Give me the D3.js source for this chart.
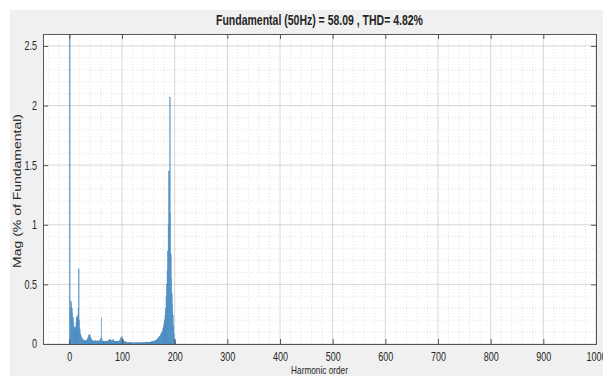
<!DOCTYPE html>
<html lang="en">
<head>
    <meta charset="utf-8">
    <title>FFT analysis</title>
    <script src="https://d3js.org/d3.v7.min.js"></script>
    <style>
        body { margin: 0; background: #fff; }
        text { font-family: "Liberation Sans", Arial, sans-serif; fill: #262626; }
    </style>
</head>
<body>
<svg id="g1"></svg>
<script>

    // harmonic spectrum, index = harmonic order (0..202), values in % of fundamental
    const magnitudes = [
        0.02, 100, 0.30, 0.36, 0.34, 0.30, 0.26, 0.22, 0.18, 0.15,
        0.13, 0.12, 0.14, 0.18, 0.22, 0.24, 0.22, 0.30, 0.63, 0.20,
        0.12, 0.09, 0.07, 0.06, 0.05, 0.04, 0.04, 0.03, 0.03, 0.03,
        0.03, 0.02, 0.03, 0.03, 0.04, 0.05, 0.06, 0.07, 0.08, 0.07,
        0.06, 0.05, 0.04, 0.03, 0.03, 0.02, 0.02, 0.03, 0.02, 0.02,
        0.03, 0.02, 0.02, 0.02, 0.03, 0.02, 0.02, 0.02, 0.03, 0.03,
        0.05, 0.22, 0.04, 0.02, 0.02, 0.02, 0.02, 0.02, 0.02, 0.02,
        0.02, 0.02, 0.02, 0.02, 0.03, 0.03, 0.04, 0.04, 0.03, 0.03,
        0.03, 0.02, 0.03, 0.04, 0.03, 0.02, 0.02, 0.02, 0.02, 0.02,
        0.02, 0.02, 0.02, 0.02, 0.02, 0.03, 0.03, 0.04, 0.05, 0.05,
        0.06, 0.05, 0.04, 0.03, 0.02, 0.02, 0.02, 0.015, 0.015, 0.015,
        0.015, 0.01, 0.015, 0.01, 0.015, 0.01, 0.01, 0.015, 0.01, 0.01,
        0.01, 0.01, 0.01, 0.01, 0.01, 0.01, 0.01, 0.01, 0.01, 0.01,
        0.01, 0.01, 0.01, 0.01, 0.01, 0.01, 0.01, 0.01, 0.01, 0.01,
        0.012, 0.012, 0.012, 0.012, 0.012, 0.012, 0.012, 0.012, 0.012, 0.012,
        0.015, 0.015, 0.015, 0.015, 0.015, 0.015, 0.015, 0.02, 0.02, 0.02,
        0.02, 0.02, 0.025, 0.025, 0.03, 0.03, 0.035, 0.04, 0.045, 0.05,
        0.055, 0.06, 0.065, 0.07, 0.08, 0.09, 0.10, 0.11, 0.13, 0.15,
        0.17, 0.20, 0.24, 0.30, 0.40, 0.50, 0.62, 0.78, 1.00, 1.45,
        1.45, 2.07, 1.10, 0.75, 0.55, 0.42, 0.33, 0.24, 0.15, 0.08,
        0.04, 0.02, 0.01
    ];
    const xTicks = [0, 100, 200, 300, 400, 500, 600, 700, 800, 900, 1000];
    const yTicks = [0, 0.5, 1, 1.5, 2, 2.5];
    const titleText = "Fundamental (50Hz) = 58.09 , THD= 4.82%";
    const xLabel = "Harmonic order";
    const yLabel = "Mag (% of Fundamental)";

    let width = 603,
        height = 376,
        margin = {top: 34, right: 7, bottom: 32, left: 43},
        chartWidth = width - margin.left - margin.right,
        chartHeight = height - margin.top - margin.bottom;

    const sq = 0.75; // horizontal squash of the text in the picture

    let svg = d3.select("#g1")
        .attr("width", width)
        .attr("height", height);

    // figure background
    svg.append("rect").attr("x", 10).attr("y", 10)
        .attr("width", width - 10).attr("height", height - 10)
        .attr("fill", "#f0f0f0");

    let x = d3.scaleLinear().domain([-50, 1000]).range([0, chartWidth]);
    let y = d3.scaleLinear().domain([0, 2.6]).range([chartHeight, 0]);

    let chartArea = svg.append("g")
        .attr("transform", `translate(${margin.left},${margin.top})`);

    chartArea.append("rect")
        .attr("width", chartWidth).attr("height", chartHeight)
        .attr("fill", "#fff");

    svg.append("clipPath").attr("id", "clip")
        .append("rect").attr("width", chartWidth).attr("height", chartHeight);

    // minor grid
    let grid = chartArea.append("g");
    grid.selectAll(".mx")
        .data(d3.range(-40, 1000, 20).filter(v => v % 100 !== 0))
        .join("line")
        .attr("x1", d => x(d)).attr("x2", d => x(d))
        .attr("y1", 0).attr("y2", chartHeight)
        .attr("stroke", "#d4d4d4").attr("stroke-width", 0.7)
        .attr("stroke-dasharray", "1,2");
    grid.selectAll(".my")
        .data(d3.range(1, 26).map(v => v / 10).filter(v => Math.round(v * 10) % 5 !== 0))
        .join("line")
        .attr("y1", d => y(d)).attr("y2", d => y(d))
        .attr("x1", 0).attr("x2", chartWidth)
        .attr("stroke", "#d4d4d4").attr("stroke-width", 0.7)
        .attr("stroke-dasharray", "1,2");

    // major grid
    grid.selectAll(".gx").data(xTicks).join("line")
        .attr("x1", d => x(d)).attr("x2", d => x(d))
        .attr("y1", 0).attr("y2", chartHeight)
        .attr("stroke", "#d2d2d2").attr("stroke-width", 0.9);
    grid.selectAll(".gy").data(yTicks).join("line")
        .attr("y1", d => y(d)).attr("y2", d => y(d))
        .attr("x1", 0).attr("x2", chartWidth)
        .attr("stroke", "#d2d2d2").attr("stroke-width", 0.9);

    // bars
    chartArea.append("g")
        .attr("clip-path", "url(#clip)")
        .selectAll("rect")
        .data(magnitudes)
        .join("rect")
        .attr("x", (d, i) => x(i - 0.45))
        .attr("width", (d, i) => x(i + 0.45) - x(i - 0.45))
        .attr("y", d => y(d))
        .attr("height", d => y(0) - y(d))
        .attr("fill", "#64a5d6")
        .attr("stroke", "#3b7fb8")
        .attr("stroke-width", 0.4);

    // axes
    let xAxis = chartArea.append("g")
        .attr("transform", `translate(0,${chartHeight})`)
        .call(d3.axisBottom(x).tickValues(xTicks).tickSize(-5).tickPadding(8)
            .tickFormat(d3.format("")));
    chartArea.append("g")
        .call(d3.axisTop(x).tickValues(xTicks).tickSize(-5).tickFormat(""));
    let yAxis = chartArea.append("g")
        .call(d3.axisLeft(y).tickValues(yTicks).tickSize(-5).tickPadding(6)
            .tickFormat(d3.format("")));
    chartArea.append("g")
        .attr("transform", `translate(${chartWidth},0)`)
        .call(d3.axisRight(y).tickValues(yTicks).tickSize(-5).tickFormat(""));

    chartArea.selectAll(".domain").attr("stroke", "#555").attr("stroke-width", 1);
    chartArea.selectAll(".tick line").attr("stroke", "#555");
    chartArea.selectAll(".tick text")
        .attr("font-size", 12).attr("font-family", "Liberation Sans, Arial, sans-serif")
        .attr("fill", "#333");
    xAxis.selectAll(".tick text").attr("transform", `scale(${sq},1)`);
    yAxis.selectAll(".tick text")
        .attr("x", -6 / sq)
        .attr("transform", `scale(${sq},1)`);

    // title and labels
    svg.append("text")
        .attr("transform", `translate(${margin.left + chartWidth / 2},25) scale(${sq},1)`)
        .attr("text-anchor", "middle")
        .attr("font-size", 14).attr("font-weight", "bold")
        .text(titleText);

    svg.append("text")
        .attr("transform", `translate(${margin.left + chartWidth / 2},374) scale(${sq},1)`)
        .attr("text-anchor", "middle")
        .attr("font-size", 11)
        .attr("fill", "#333")
        .text(xLabel);

    svg.append("text")
        .attr("transform", `translate(21,${margin.top + chartHeight / 2 + 2}) scale(${sq},1) rotate(-90)`)
        .attr("text-anchor", "middle")
        .attr("font-size", 14)
        .attr("fill", "#333")
        .text(yLabel);

</script>
</body>
</html>
